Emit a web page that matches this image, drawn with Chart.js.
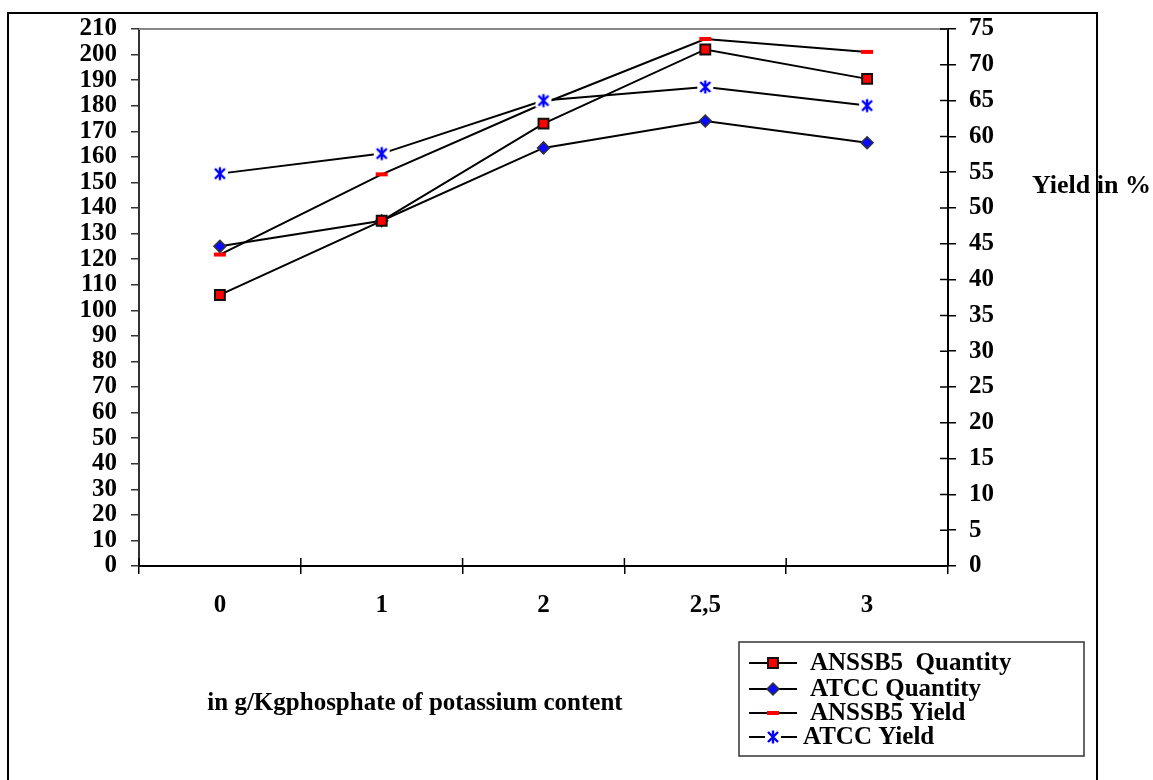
<!DOCTYPE html>
<html>
<head>
<meta charset="utf-8">
<script src="https://cdn.jsdelivr.net/npm/chart.js@4.4.0/dist/chart.umd.min.js"></script>
<style>
  html, body { margin: 0; padding: 0; background: #fff; }
</style>
</head>
<body>
<canvas id="lineChart" width="1153" height="780"></canvas>
<script>
const categories = ['0', '1', '2', '2,5', '3'];
const anssbQuantity = [106, 135, 173, 202, 190.5];
const atccQuantity = [125, 135, 163.5, 174, 165.5];
const anssbYield = [43.5, 54.7, 64.6, 73.6, 71.8];
const atccYield = [54.8, 57.6, 65, 66.9, 64.3];
const seriesNames = ['ANSSB5  Quantity', 'ATCC Quantity', 'ANSSB5 Yield', 'ATCC Yield'];

const FONT = "'Liberation Serif', 'Times New Roman', serif";

// asterisk marker with a white halo (the line breaks around it)
function makeStar() {
    const c = document.createElement('canvas');
    c.width = 18; c.height = 18;
    const g = c.getContext('2d');
    g.fillStyle = '#fff';
    g.fillRect(1, 2, 16, 14);
    g.strokeStyle = '#0000ff';
    g.lineWidth = 2.4;
    g.beginPath();
    g.moveTo(4, 4); g.lineTo(14, 14);
    g.moveTo(14, 4); g.lineTo(4, 14);
    g.moveTo(9, 2.5); g.lineTo(9, 15.5);
    g.stroke();
    return c;
}
const star = makeStar();

const extras = {
    id: 'extras',
    afterDraw(chart) {
        const ctx = chart.ctx;
        const area = chart.chartArea;
        const xs = chart.scales.x;
        const y1 = chart.scales.y1;
        ctx.save();

        // grey top edge of the plot
        ctx.strokeStyle = '#888';
        ctx.lineWidth = 2;
        ctx.beginPath();
        ctx.moveTo(area.left, area.top);
        ctx.lineTo(area.right, area.top);
        ctx.stroke();

        // inner halves of crossing ticks
        ctx.strokeStyle = '#000';
        ctx.lineWidth = 1.5;
        ctx.beginPath();
        const n = categories.length;
        for (let i = 0; i <= n; i++) {
            const px = xs.left + (xs.right - xs.left) * i / n;
            ctx.moveTo(px, area.bottom - 8);
            ctx.lineTo(px, area.bottom);
        }
        y1.ticks.forEach(t => {
            const py = y1.getPixelForValue(t.value);
            ctx.moveTo(area.right - 8, py);
            ctx.lineTo(area.right, py);
        });
        ctx.stroke();

        // titles
        ctx.fillStyle = '#000';
        ctx.font = 'bold 25px ' + FONT;
        ctx.textBaseline = 'alphabetic';
        ctx.textAlign = 'center';
        ctx.fillText('in g/Kgphosphate of potassium content', 415, 710);
        ctx.textAlign = 'left';
        ctx.font = 'bold 26px ' + FONT;
        ctx.fillText('Yield in %', 1032, 193);

        // legend
        ctx.strokeStyle = '#333';
        ctx.lineWidth = 1.5;
        ctx.strokeRect(739, 642, 345, 114);
        const rows = [663, 689, 713, 737];
        ctx.font = 'bold 25px ' + FONT;
        ctx.textBaseline = 'middle';
        chart.data.datasets.forEach((ds, i) => {
            const ry = rows[i];
            ctx.strokeStyle = '#000';
            ctx.lineWidth = 2;
            ctx.beginPath();
            ctx.moveTo(749, ry);
            ctx.lineTo(797, ry);
            ctx.stroke();
            ctx.fillStyle = ds.pointBackgroundColor;
            ctx.strokeStyle = ds.pointBorderColor;
            ctx.lineWidth = ds.pointBorderWidth;
            ctx.beginPath();
            if (ds.pointStyle === 'rect') {
                const s = ds.pointRadius * Math.SQRT1_2;
                ctx.rect(773 - s, ry - s, 2 * s, 2 * s);
                ctx.fill(); ctx.stroke();
            } else if (ds.pointStyle === 'rectRot') {
                const r = ds.pointRadius;
                ctx.moveTo(773 - r, ry); ctx.lineTo(773, ry - r);
                ctx.lineTo(773 + r, ry); ctx.lineTo(773, ry + r);
                ctx.closePath();
                ctx.fill(); ctx.stroke();
            } else if (ds.pointStyle === 'line') {
                ctx.moveTo(773 - ds.pointRadius, ry);
                ctx.lineTo(773 + ds.pointRadius, ry);
                ctx.stroke();
            } else {
                ctx.drawImage(ds.pointStyle, 773 - 9, ry - 9);
            }
            ctx.fillStyle = '#000';
            ctx.fillText(ds.label, i === 3 ? 803 : 810, ry + 1);
        });

        // outer frame (open at the bottom)
        ctx.strokeStyle = '#000';
        ctx.lineWidth = 2;
        ctx.beginPath();
        ctx.moveTo(8, 800);
        ctx.lineTo(8, 13);
        ctx.lineTo(1097, 13);
        ctx.lineTo(1097, 800);
        ctx.stroke();
        ctx.restore();
    }
};

const tickFont = { family: FONT, size: 25, weight: 'bold' };

const config = {
    type: 'line',
    data: {
        labels: categories,
        datasets: [{
            label: seriesNames[0],
            data: anssbQuantity,
            yAxisID: 'y',
            borderColor: '#000',
            borderWidth: 2,
            pointStyle: 'rect',
            pointRadius: 7,
            pointBackgroundColor: '#ff0000',
            pointBorderColor: '#111',
            pointBorderWidth: 2,
            order: 1
        }, {
            label: seriesNames[1],
            data: atccQuantity,
            yAxisID: 'y',
            borderColor: '#000',
            borderWidth: 2,
            pointStyle: 'rectRot',
            pointRadius: 6,
            pointBackgroundColor: '#0a0aff',
            pointBorderColor: '#333',
            pointBorderWidth: 1.5,
            order: 1
        }, {
            label: seriesNames[2],
            data: anssbYield,
            yAxisID: 'y1',
            borderColor: '#000',
            borderWidth: 2,
            pointStyle: 'line',
            pointRadius: 6,
            pointBackgroundColor: '#ff0000',
            pointBorderColor: '#ff0000',
            pointBorderWidth: 4,
            order: 1
        }, {
            label: seriesNames[3],
            data: atccYield,
            yAxisID: 'y1',
            borderColor: '#000',
            borderWidth: 2,
            pointStyle: star,
            pointRadius: 8,
            pointBackgroundColor: '#0000ff',
            pointBorderColor: '#0000ff',
            pointBorderWidth: 1,
            order: 0
        }]
    },
    options: {
        responsive: false,
        animation: false,
        layout: { autoPadding: false, padding: { top: 29, left: 0, right: 0, bottom: 0 } },
        plugins: {
            legend: { display: false },
            tooltip: { enabled: false }
        },
        scales: {
            x: {
                offset: true,
                grid: { offset: true, drawOnChartArea: false, tickLength: 8, color: '#000', lineWidth: 1.5 },
                border: { color: '#000', width: 2 },
                ticks: { font: tickFont, color: '#000', padding: 17, maxRotation: 0, autoSkip: false },
                afterFit: s => { s.height = 214; }
            },
            y: {
                position: 'left',
                min: 0,
                max: 210,
                grid: { drawOnChartArea: false, tickLength: 8, color: '#333', lineWidth: 1.5 },
                border: { color: '#333', width: 2 },
                ticks: { stepSize: 10, font: tickFont, color: '#000', padding: 14, autoSkip: false },
                afterFit: s => { s.width = 139; }
            },
            y1: {
                position: 'right',
                min: 0,
                max: 75,
                grid: { drawOnChartArea: false, tickLength: 8, color: '#000', lineWidth: 1.5 },
                border: { color: '#000', width: 2 },
                ticks: { stepSize: 5, font: tickFont, color: '#000', padding: 13, autoSkip: false },
                afterFit: s => { s.width = 205; }
            }
        }
    },
    plugins: [extras]
};

document.addEventListener('DOMContentLoaded', function() {
    const ctx = document.getElementById('lineChart').getContext('2d');
    new Chart(ctx, config);
});
</script>
</body>
</html>
